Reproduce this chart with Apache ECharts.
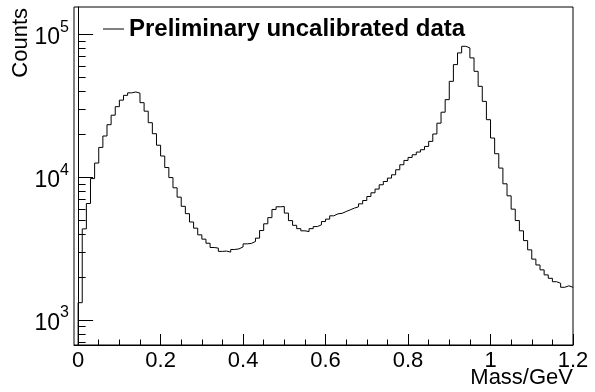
<!DOCTYPE html>
<html>
<head>
<meta charset="utf-8">
<script src="https://cdn.jsdelivr.net/npm/echarts@6/dist/echarts.min.js"></script>
<style>
  html, body { margin: 0; padding: 0; background: #fff; }
  #chart { width: 595px; height: 392px; }
</style>
</head>
<body>
<div id="chart"></div>
<script>
// Invariant-mass histogram: 120 bins of 0.01 GeV starting at 0
const binLow = 0;
const binWidth = 0.01;
const counts = [
  1322, 4350, 6550, 9790, 12580, 16190, 19460, 23360, 27230, 31240,
  34710, 37500, 39050, 39620, 38860, 33330, 29050, 24130, 20200, 16770,
  14090, 11700, 9950, 8440, 7260, 6260, 5560, 4860, 4400, 3950,
  3685, 3450, 3220, 3190, 3025, 3040, 2990, 3120, 3150, 3250,
  3415, 3440, 3545, 3745, 4235, 4720, 5215, 5950, 6210, 6240,
  5610, 4970, 4605, 4365, 4215, 4165, 4365, 4515, 4640, 4895,
  5090, 5370, 5545, 5590, 5755, 5915, 6080, 6210, 6515, 6875,
  7335, 7785, 8265, 8860, 9345, 9870, 10410, 11290, 12240, 13120,
  13770, 14380, 15020, 15600, 16450, 17840, 20100, 23930, 28580, 34990,
  47020, 61590, 74380, 82770, 80660, 68620, 55270, 43380, 34030, 25330,
  18840, 14620, 11600, 9000, 7415, 5980, 4975, 4215, 3600, 3100,
  2670, 2430, 2245, 2070, 1960, 1855, 1810, 1695, 1735, 1695
];

const seriesName = 'Preliminary uncalibrated data';
const xTitle = 'Mass/GeV';
const yTitle = 'Counts';

const xMajorTicks = [0, 0.2, 0.4, 0.6, 0.8, 1, 1.2];
const xMinorTicks = [0.05, 0.1, 0.15, 0.25, 0.3, 0.35, 0.45, 0.5, 0.55, 0.65, 0.7, 0.75,
                     0.85, 0.9, 0.95, 1.05, 1.1, 1.15];
const yMajorTicks = [1000, 10000, 100000];
const yMinorTicks = [700, 800, 900, 2000, 3000, 4000, 5000, 6000, 7000, 8000, 9000,
                     20000, 30000, 40000, 50000, 60000, 70000, 80000, 90000];

const xMin = -0.01, xMax = 1.2;
const yMin = 668, yMax = 156000;

// Step outline: one point per bin low edge, plus the closing upper edge.
const stepData = [[binLow - binWidth, 1]];
counts.forEach((c, i) => stepData.push([+(binLow + i * binWidth).toFixed(4), c]));
stepData.push([+(binLow + counts.length * binWidth).toFixed(4), counts[counts.length - 1]]);

const FONT = 'Liberation Sans, Arial, Helvetica, sans-serif';

const chart = echarts.init(document.getElementById('chart'), null, { renderer: 'canvas' });

const baseX = {
  type: 'value', min: xMin, max: xMax, position: 'bottom',
  splitLine: { show: false }
};
const baseY = {
  type: 'log', logBase: 10, min: yMin, max: yMax, position: 'left',
  splitLine: { show: false }
};

chart.setOption({
  animation: false,
  backgroundColor: '#fff',
  grid: {
    left: 74, top: 7, width: 499, height: 338,
    show: true, borderColor: '#000', borderWidth: 1, backgroundColor: 'transparent'
  },
  legend: {
    left: 103, top: 17, padding: 0,
    icon: 'rect',
    itemWidth: 21, itemHeight: 1,
    itemStyle: { color: '#000', borderWidth: 0 },
    textStyle: { fontFamily: FONT, fontSize: 24, fontWeight: 'bold', color: '#000' },
    data: [seriesName]
  },
  xAxis: [
    Object.assign({}, baseX, {
      axisLine: { show: true, lineStyle: { color: '#000', width: 1 } },
      axisTick: { show: true, inside: true, length: 11, customValues: xMajorTicks,
                  lineStyle: { color: '#000', width: 1 } },
      axisLabel: {
        show: true, customValues: xMajorTicks, margin: 5,
        fontFamily: FONT, fontSize: 22, color: '#000',
        formatter: v => String(+v.toFixed(2))
      }
    }),
    Object.assign({}, baseX, {
      axisLine: { show: false },
      axisTick: { show: true, inside: true, length: 5.5, customValues: xMinorTicks,
                  lineStyle: { color: '#000', width: 1 } },
      axisLabel: { show: false }
    })
  ],
  yAxis: [
    Object.assign({}, baseY, {
      axisLine: { show: true, lineStyle: { color: '#000', width: 1 } },
      axisTick: { show: true, inside: true, length: 15, customValues: yMajorTicks,
                  lineStyle: { color: '#000', width: 1 } },
      axisLabel: {
        show: true, customValues: yMajorTicks, margin: 5,
        formatter: v => '{b|10}{s|' + Math.round(Math.log10(v)) + '}',
        rich: {
          b: { fontFamily: FONT, fontSize: 23, color: '#000', lineHeight: 30, verticalAlign: 'bottom' },
          s: { fontFamily: FONT, fontSize: 16, color: '#000', lineHeight: 16, verticalAlign: 'top' }
        }
      }
    }),
    Object.assign({}, baseY, {
      axisLine: { show: false },
      axisTick: { show: true, inside: true, length: 7.5, customValues: yMinorTicks,
                  lineStyle: { color: '#000', width: 1 } },
      axisLabel: { show: false }
    })
  ],
  graphic: [
    {
      type: 'text', right: 22, top: 367,
      style: { text: xTitle, fontFamily: FONT, fontSize: 22, fill: '#000' }
    },
    {
      type: 'text', x: 21, y: 8, rotation: Math.PI / 2,
      style: { text: yTitle, fontFamily: FONT, fontSize: 22, fill: '#000',
               align: 'right', verticalAlign: 'middle' }
    }
  ],
  series: [{
    name: seriesName,
    type: 'line',
    xAxisIndex: 0, yAxisIndex: 0,
    step: 'end',
    symbol: 'none',
    clip: true,
    lineStyle: { color: '#000', width: 1 },
    itemStyle: { color: '#000' },
    data: stepData
  }]
});
</script>
</body>
</html>
